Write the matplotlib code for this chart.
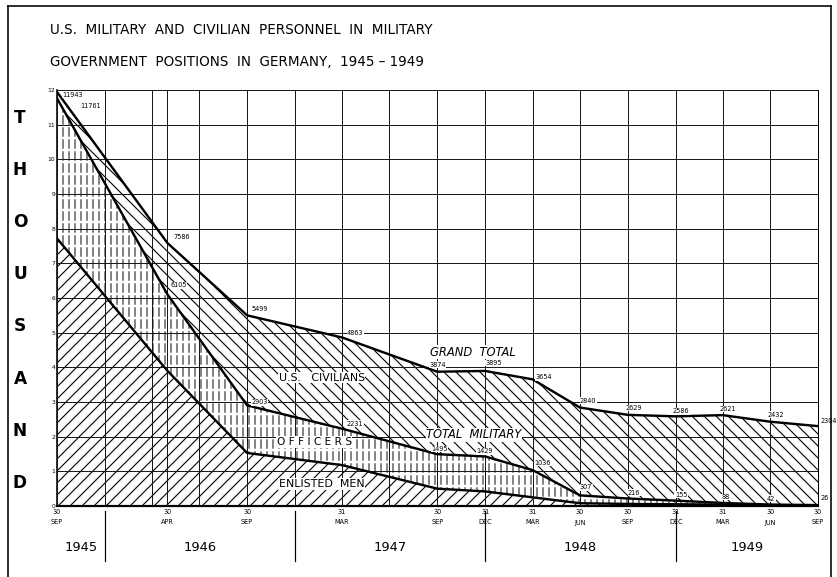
import matplotlib
matplotlib.use("Agg")
import matplotlib.pyplot as plt
import matplotlib.dates as mdates
import pandas as pd
from matplotlib.lines import Line2D

# --------------------------------------------------------------------
# Données (milliers de personnes)
# --------------------------------------------------------------------
dates = pd.to_datetime([
    "1945-09-30", "1946-04-30", "1946-09-30", "1947-03-31", "1947-09-30",
    "1947-12-31", "1948-03-31", "1948-06-30", "1948-09-30", "1948-12-31",
    "1949-03-31", "1949-06-30", "1949-09-30",
])
day_labels = ["30", "30", "30", "31", "30", "31", "31", "30", "30", "31", "31", "30", "30"]
month_labels = ["SEP", "APR", "SEP", "MAR", "SEP", "DEC", "MAR", "JUN", "SEP", "DEC", "MAR", "JUN", "SEP"]

grand_total = [11.943, 7.586, 5.499, 4.863, 3.874, 3.895, 3.654, 2.840, 2.629, 2.586, 2.621, 2.432, 2.304]
total_military = [11.761, 6.105, 2.903, 2.231, 1.495, 1.429, 1.036, 0.307, 0.216, 0.155, 0.088, 0.042, 0.026]
enlisted = [7.72, 3.9, 1.53, 1.18, 0.5, 0.42, 0.25, 0.08, 0.06, 0.05, 0.04, 0.02, 0.01]

grand_labels = ["11943", "7586", "5499", "4863", "3874", "3895", "3654",
                "2840", "2629", "2586", "2621", "2432", "2304"]
military_labels = ["11761", "6105", "2903", "2231", "1495", "1429", "1036",
                   "307", "216", "155", "88", "42", "26"]

years = ["1945", "1946", "1947", "1948", "1949"]
year_breaks = pd.to_datetime(["1945-12-31", "1946-12-31", "1947-12-31", "1948-12-31"])

# décalages des étiquettes (en points, 1 pt = 1 px à 72 dpi)
grand_offsets = [(5, -3), (6, 6), (4, 6), (5, 4), (-8, 7), (0, 8), (3, 2),
                 (0, 7), (-2, 7), (-3, 5), (-3, 6), (-3, 7), (2, 5)]
military_offsets = [(23, -8), (3, 9), (4, 3), (5, 5), (-6, 5), (-9, 5), (2, 7),
                    (0, 8), (0, 6), (-1, 6), (-1, 6), (-3, 6), (2, 7)]

x = mdates.date2num(dates.to_pydatetime())
xb = mdates.date2num(year_breaks.to_pydatetime())
quarters = mdates.date2num(pd.date_range("1945-09-30", "1949-09-30", freq="QE").to_pydatetime())

# --------------------------------------------------------------------
# Figure
# --------------------------------------------------------------------
W, H = 837, 577
fig = plt.figure(figsize=(W / 72, H / 72), dpi=72)
ax = fig.add_axes([57 / W, 1 - 506 / H, 761 / W, 416 / H])
plt.rcParams["hatch.linewidth"] = 1.1

# zones hachurées
ax.fill_between(x, 0, enlisted, facecolor="white", edgecolor="black",
                hatch="//", linewidth=0, zorder=1)
ax.fill_between(x, enlisted, total_military, facecolor="white", edgecolor="#222222",
                hatch="||", linewidth=0, zorder=1)
with plt.rc_context({"hatch.linewidth": 2.5}):
    gaps = ax.fill_between(x, enlisted, total_military, facecolor="none", edgecolor="white",
                           hatch="-", linewidth=0, zorder=1.2)
if hasattr(gaps, "set_hatch_linewidth"):
    gaps.set_hatch_linewidth(2.5)
ax.fill_between(x, total_military, grand_total, facecolor="white", edgecolor="black",
                hatch="\\\\", linewidth=0, zorder=1)

# courbes
for serie in (grand_total, total_military, enlisted):
    ax.plot(x, serie, color="black", lw=2.4, zorder=3, solid_joinstyle="round")

# axes / grille
ax.set_xlim(x[0], x[-1])
ax.set_ylim(0, 12)
ax.set_yticks(range(13))
ax.set_yticklabels([str(i) for i in range(13)], fontsize=6)
ax.set_xticks(x)
ax.set_xticklabels([f"{d}\n{m}" for d, m in zip(day_labels, month_labels)],
                   fontsize=6.5, linespacing=1.9)
ax.set_xticks(quarters, minor=True)
ax.tick_params(axis="both", which="both", length=0, pad=2)
ax.tick_params(axis="x", pad=3)
ax.set_axisbelow(False)
ax.grid(which="major", color="#1a1a1a", lw=1.0)
ax.grid(which="minor", axis="x", color="#1a1a1a", lw=1.0)
for side in ("top", "right", "left"):
    ax.spines[side].set_linewidth(1.0)
ax.spines["left"].set_linewidth(1.6)
ax.spines["bottom"].set_linewidth(2.2)

# étiquettes des valeurs
for xi, v, lbl, off in zip(x, grand_total, grand_labels, grand_offsets):
    ax.annotate(lbl, (xi, v), xytext=off, textcoords="offset points",
                fontsize=6.5, ha="left", va="center", zorder=4, annotation_clip=False,
                bbox=dict(facecolor="white", edgecolor="none", pad=0.3))
for xi, v, lbl, off in zip(x, total_military, military_labels, military_offsets):
    ax.annotate(lbl, (xi, v), xytext=off, textcoords="offset points",
                fontsize=6.5, ha="left", va="center", zorder=4, annotation_clip=False,
                bbox=dict(facecolor="white", edgecolor="none", pad=0.3))

# noms des zones
zone_kw = dict(transform=ax.transAxes, ha="center", va="center", zorder=2.8,
               bbox=dict(facecolor="white", edgecolor="none", pad=0.6))
ax.text(0.547, 0.370, "GRAND  TOTAL", fontsize=11.5, style="italic", **zone_kw)
ax.text(0.348, 0.308, "U.S.   CIVILIANS", fontsize=11, **zone_kw)
ax.text(0.548, 0.171, "TOTAL  MILITARY", fontsize=11.5, style="italic", **zone_kw)
ax.text(0.338, 0.154, "O F F I C E R S", fontsize=10.5, **zone_kw)
ax.text(0.348, 0.053, "ENLISTED  MEN", fontsize=11, **zone_kw)

# années et séparateurs
bounds = [x[0]] + list(xb) + [x[-1]]
for i, yr in enumerate(years):
    ax.text((bounds[i] + bounds[i + 1]) / 2, -0.099, yr, transform=ax.get_xaxis_transform(),
            ha="center", va="center", fontsize=13)
for b in xb:
    ax.plot([b, b], [-0.012, -0.132], transform=ax.get_xaxis_transform(),
            color="black", lw=1.2, clip_on=False)

# THOUSAND à la verticale
for i, ch in enumerate("THOUSAND"):
    fig.text(20 / W, 1 - (118 + i * 52.1) / H, ch, ha="center", va="center",
             fontsize=17, fontweight="bold")

# titre
fig.text(50 / W, 1 - 30 / H, "U.S.  MILITARY  AND  CIVILIAN  PERSONNEL  IN  MILITARY",
         ha="left", va="center", fontsize=13.5)
fig.text(50 / W, 1 - 62 / H, "GOVERNMENT  POSITIONS  IN  GERMANY,  1945 – 1949",
         ha="left", va="center", fontsize=13.5)

# cadre
fl, fr, ft = 8 / W, 831 / W, 1 - 6 / H
fig.add_artist(Line2D([fl, fl], [0, ft], transform=fig.transFigure, color="black", lw=1.6))
fig.add_artist(Line2D([fl, fr], [ft, ft], transform=fig.transFigure, color="black", lw=1.6))
fig.add_artist(Line2D([fr, fr], [0, ft], transform=fig.transFigure, color="black", lw=1.6))

fig.savefig("out.png", dpi=72)
